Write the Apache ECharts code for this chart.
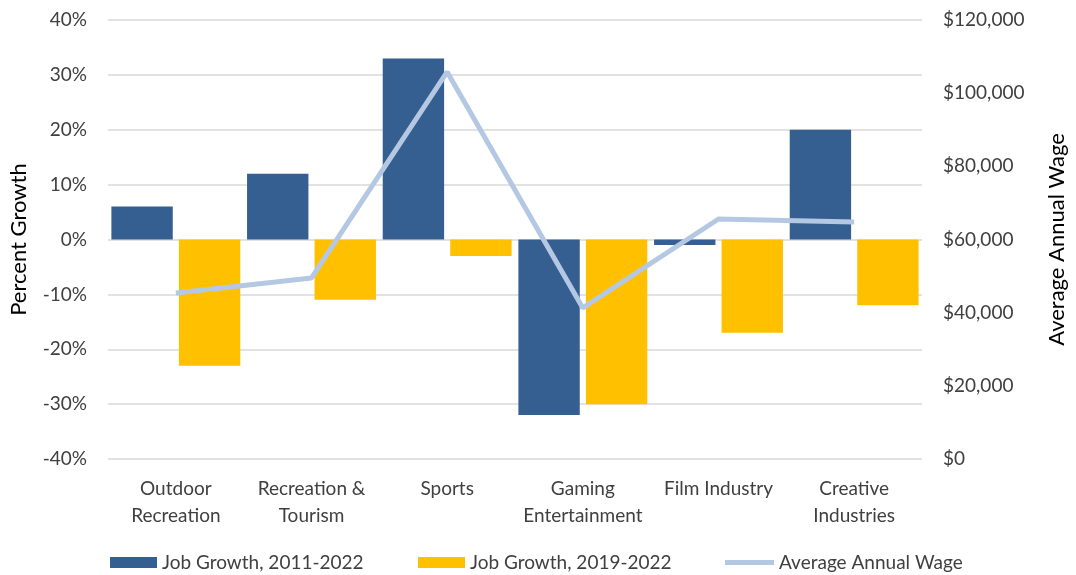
<!DOCTYPE html>
<html>
<head>
<meta charset="utf-8">
<script src="https://cdn.jsdelivr.net/npm/echarts@6/dist/echarts.min.js"></script>
<style>
html,body{margin:0;padding:0;background:#fff;}
#chart{width:1076px;height:575px;}
</style>
</head>
<body>
<div id="chart"></div>
<script>
const categories = ['Outdoor\nRecreation', 'Recreation &\nTourism', 'Sports', 'Gaming\nEntertainment', 'Film Industry', 'Creative\nIndustries'];
const jobGrowth2011 = [6, 12, 33, -32, -1, 20];
const jobGrowth2019 = [-23, -11, -3, -30, -17, -12];
const avgWage = [45400, 49500, 105800, 41300, 65600, 64800];
const leftTicks = { min: -40, max: 40, interval: 10 };
const rightTicks = { min: 0, max: 120000, interval: 20000 };
const seriesNames = ['Job Growth, 2011-2022', 'Job Growth, 2019-2022', 'Average Annual Wage'];

const FONT = 'Lato';
const TXT = '#404040';
const chart = echarts.init(document.getElementById('chart'));
chart.setOption({
  animation: false,
  textStyle: { fontFamily: FONT },
  grid: { left: 106, right: 149, top: 20, bottom: 116, containLabel: false },
  legend: [
    { data: [seriesNames[0]], left: 110, top: 553, padding: 0, icon: 'rect', itemWidth: 47, itemHeight: 11,
      textStyle: { fontFamily: FONT, fontSize: 19, color: TXT } },
    { data: [seriesNames[1]], left: 418, top: 553, padding: 0, icon: 'rect', itemWidth: 47, itemHeight: 11,
      textStyle: { fontFamily: FONT, fontSize: 19, color: TXT } },
    { data: [seriesNames[2]], left: 725, top: 553, padding: 0, icon: 'rect', itemWidth: 49, itemHeight: 5,
      textStyle: { fontFamily: FONT, fontSize: 19, color: TXT } }
  ],
  xAxis: {
    type: 'category',
    data: categories,
    axisLine: { show: false },
    axisTick: { show: false },
    axisLabel: { color: TXT, fontSize: 19, lineHeight: 27, margin: 16, interval: 0 }
  },
  yAxis: [
    {
      type: 'value', position: 'left',
      min: leftTicks.min, max: leftTicks.max, interval: leftTicks.interval,
      name: 'Percent Growth', nameLocation: 'middle', nameGap: 78, nameRotate: 90,
      nameTextStyle: { fontSize: 22, color: '#000', fontFamily: FONT },
      axisLabel: { color: TXT, fontSize: 19, margin: 21, formatter: v => v + '%' },
      axisLine: { show: false }, axisTick: { show: false },
      splitLine: { lineStyle: { color: '#d9d9d9', width: 1.5 } }
    },
    {
      type: 'value', position: 'right',
      min: rightTicks.min, max: rightTicks.max, interval: rightTicks.interval,
      name: 'Average Annual Wage', nameLocation: 'middle', nameGap: 124, nameRotate: 90,
      nameTextStyle: { fontSize: 22, color: '#000', fontFamily: FONT },
      axisLabel: { color: TXT, fontSize: 19, margin: 21, formatter: v => '$' + v.toLocaleString('en-US') },
      axisLine: { show: false }, axisTick: { show: false },
      splitLine: { show: false }
    }
  ],
  series: [
    { name: seriesNames[0], type: 'bar', data: jobGrowth2011, yAxisIndex: 0,
      barGap: '10%', barCategoryGap: '5%', itemStyle: { color: '#365f91' } },
    { name: seriesNames[1], type: 'bar', data: jobGrowth2019, yAxisIndex: 0,
      barGap: '10%', barCategoryGap: '5%', itemStyle: { color: '#ffc000' } },
    { name: seriesNames[2], type: 'line', data: avgWage, yAxisIndex: 1, z: 5,
      symbol: 'none', lineStyle: { color: '#b4c8e3', width: 5 }, itemStyle: { color: '#b4c8e3' } }
  ]
});
</script>
</body>
</html>
